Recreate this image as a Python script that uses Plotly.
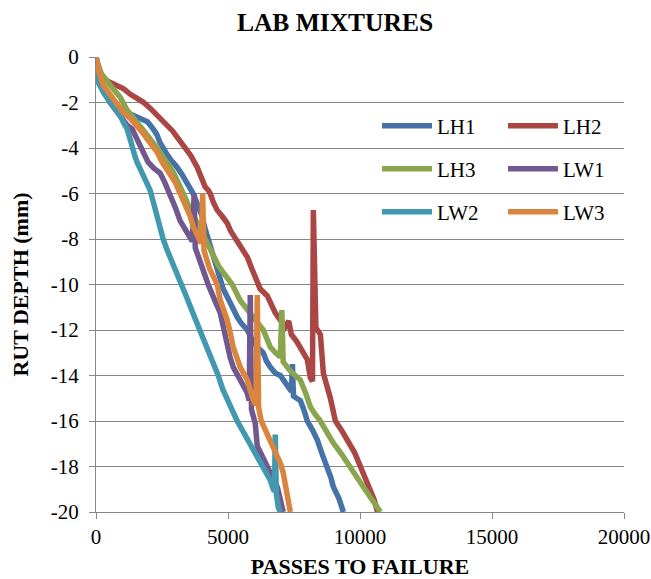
import plotly.graph_objects as go

# ---------------- data (passes, rut depth in mm) ----------------
series_names = ["LH1", "LH2", "LH3", "LW1", "LW2", "LW3"]
series_colors = ["#4572A7", "#AA4643", "#89A54E", "#71588F", "#4198AF", "#DB843D"]

lh1_passes = [0, 40, 300, 645, 1000, 1290, 1550, 1783, 1950, 2163, 2300, 2420, 2542, 2700, 2808,
              2950, 3073, 3250, 3453, 3560, 3680, 3850, 4022, 4120, 4249, 4400, 4550, 4705, 4820,
              5084, 5200, 5350, 5500, 5729, 5900, 6108, 6336, 6450, 6602, 6800, 6981, 7150, 7300,
              7400, 7440, 7480, 7600, 7740, 7870, 8005, 8200, 8385, 8550, 8764, 8900, 8992, 9200, 9371]
lh1_depth = [0, -0.9, -1.5, -2.0, -2.35, -2.5, -2.6, -2.73, -2.85, -3.16, -3.4, -3.75, -4.04, -4.3, -4.48,
             -4.65, -4.84, -5.15, -5.5, -5.75, -6.0, -6.5, -7.0, -7.5, -8.0, -8.6, -9.3, -9.9, -10.2,
             -10.8, -11.1, -11.43, -11.7, -12.0, -12.4, -12.75, -13.0, -13.35, -13.63, -13.9, -14.0, -14.3, -14.6,
             -14.7, -13.5, -14.9, -15.0, -15.1, -15.5, -16.0, -16.4, -16.84, -17.4, -18.0, -18.5, -18.9, -19.4, -20.0]

lh2_passes = [0, 76, 266, 500, 797, 1050, 1290, 1550, 1783, 2050, 2314, 2500, 2694, 2900, 3073, 3250,
              3400, 3600, 3832, 3950, 4135, 4250, 4325, 4450, 4591, 4780, 4970, 5100, 5274, 5500, 5729,
              5900, 6108, 6222, 6488, 6650, 6791, 7000, 7171, 7300, 7400, 7600, 7740, 8005, 8119, 8200,
              8233, 8330, 8500, 8612, 8878, 9067, 9300, 9523, 9800, 10016, 10200, 10396, 10550, 10661]
lh2_depth = [0, -0.35, -0.97, -1.1, -1.23, -1.4, -1.63, -1.8, -1.98, -2.25, -2.55, -2.75, -2.99, -3.25, -3.52, -3.8,
             -4.0, -4.35, -4.84, -5.2, -5.71, -5.85, -6.0, -6.4, -6.73, -7.0, -7.3, -7.65, -7.96, -8.35, -8.79,
             -9.3, -10.0, -10.2, -10.5, -10.9, -11.25, -11.6, -11.87, -11.6, -12.2, -12.5, -12.75, -13.3, -14.1, -14.25,
             -6.73, -11.9, -12.2, -13.9, -15.0, -16.0, -16.4, -16.84, -17.4, -18.0, -18.5, -19.0, -19.5, -20.0]

lh3_passes = [0, 152, 531, 911, 1176, 1450, 1650, 1950, 2314, 2600, 2900, 3187, 3400, 3650, 3900, 4150,
              4400, 4650, 4900, 5160, 5463, 5700, 5957, 6150, 6336, 6480, 6602, 6800, 6981, 7040, 7090,
              7360, 7550, 7740, 7950, 8119, 8300, 8499, 8750, 8992, 9300, 9637, 9900, 10130, 10450, 10775]
lh3_depth = [0, -0.66, -1.23, -1.76, -2.33, -2.7, -3.0, -3.45, -4.0, -4.45, -5.0, -5.7, -6.3, -6.9, -7.45, -8.0,
             -8.6, -9.2, -9.6, -10.0, -10.7, -11.05, -11.43, -11.7, -12.0, -12.4, -12.75, -13.0, -13.19, -11.12, -13.4,
             -13.8, -14.0, -14.2, -14.8, -15.38, -15.7, -16.0, -16.5, -16.97, -17.45, -18.0, -18.45, -18.9, -19.45, -20.0]

lw1_passes = [0, 40, 531, 900, 1176, 1366, 1500, 1669, 1850, 1973, 2200, 2428, 2600, 2808, 3000, 3187,
              3400, 3566, 3650, 3718, 3760, 3832, 4000, 4249, 4500, 4705, 4850, 4970, 5080, 5198, 5463,
              5600, 5729, 5800, 5843, 5890, 6032, 6108, 6300, 6488, 6700, 6867, 7000, 7095]
lw1_depth = [0, -1.0, -2.0, -2.6, -3.0, -3.16, -3.5, -3.87, -4.3, -4.62, -4.9, -5.1, -5.5, -6.0, -6.6, -7.2,
             -7.6, -8.0, -8.1, -6.0, -8.4, -8.62, -9.2, -10.0, -10.7, -11.25, -12.0, -12.75, -13.2, -13.63, -14.2,
             -14.5, -14.77, -15.1, -10.46, -15.5, -16.1, -17.1, -17.6, -18.0, -18.5, -18.9, -19.5, -20.0]

lw2_passes = [0, 38, 300, 531, 750, 911, 1050, 1176, 1290, 1366, 1460, 1556, 1800, 2049, 2200, 2314,
              2450, 2542, 2700, 2808, 3000, 3263, 3450, 3650, 3946, 4150, 4400, 4629, 4800, 4970, 5150,
              5350, 5600, 5843, 6050, 6298, 6450, 6602, 6715, 6760, 6791, 6830, 6905, 6981]
lw2_depth = [0, -1.0, -1.6, -2.0, -2.3, -2.55, -2.9, -3.16, -3.6, -4.0, -4.3, -4.62, -5.2, -5.85, -6.5, -7.03,
             -7.5, -8.0, -8.5, -8.79, -9.3, -10.0, -10.6, -11.2, -12.0, -12.6, -13.3, -14.0, -14.6, -15.1, -15.5,
             -16.0, -16.5, -17.0, -17.5, -18.0, -18.3, -18.6, -19.0, -19.1, -16.6, -19.2, -19.8, -20.0]

lw3_passes = [0, 100, 266, 500, 797, 1024, 1300, 1556, 1750, 1935, 2314, 2504, 2808, 3000, 3187, 3400,
              3566, 3700, 3870, 3990, 4040, 4090, 4300, 4591, 4705, 4970, 5100, 5198, 5463, 5729, 5957,
              6060, 6108, 6160, 6260, 6488, 6715, 6830, 7000, 7095, 7247, 7360]
lw3_depth = [0, -0.6, -1.23, -1.6, -2.0, -2.42, -2.7, -3.0, -3.3, -3.6, -4.18, -4.62, -5.1, -5.5, -6.0, -6.5,
             -7.0, -7.5, -8.0, -8.2, -6.0, -8.5, -9.3, -10.0, -10.68, -11.56, -12.2, -12.75, -13.63, -14.2, -15.08,
             -15.3, -10.46, -15.4, -16.0, -16.6, -17.2, -17.4, -17.9, -18.3, -19.2, -20.0]

x_tick_vals = [0, 5000, 10000, 15000, 20000]
x_tick_text = ["0", "5000", "10000", "15000", "20000"]
y_tick_vals = [0, -2, -4, -6, -8, -10, -12, -14, -16, -18, -20]
y_tick_text = ["0", "-2", "-4", "-6", "-8", "-10", "-12", "-14", "-16", "-18", "-20"]

title_text = "LAB MIXTURES"
x_title = "PASSES TO FAILURE"
y_title = "RUT DEPTH (mm)"

# ---------------- figure ----------------
all_x = [lh1_passes, lh2_passes, lh3_passes, lw1_passes, lw2_passes, lw3_passes]
all_y = [lh1_depth, lh2_depth, lh3_depth, lw1_depth, lw2_depth, lw3_depth]
legend_ids = ["legend", "legend2", "legend3", "legend4", "legend5", "legend6"]

FONT = "Liberation Serif, Times New Roman, serif"
GRID = "#878787"

fig = go.Figure()
for name, col, xs, ys, lg in zip(series_names, series_colors, all_x, all_y, legend_ids):
    fig.add_trace(go.Scatter(x=xs, y=ys, mode="lines", name=name, legend=lg,
                             line=dict(color=col, width=5.5)))

# plot area (px): left 96, right 624, top 57, bottom 512
L, R, T, B = 96, 624, 57, 512
W, H = 651, 579
pw, ph = R - L, B - T

leg_rows = [126, 169, 212]
leg_cols = [377, 503]
legend_layout = {}
for i, lg in enumerate(legend_ids):
    row, colidx = divmod(i, 2)
    legend_layout[lg] = dict(
        x=(leg_cols[colidx] - L) / pw, y=1 - (leg_rows[row] - T) / ph,
        xanchor="left", yanchor="middle", bgcolor="rgba(0,0,0,0)", itemwidth=50,
        font=dict(family=FONT, size=21, color="black"), borderwidth=0)

fig.update_layout(
    width=W, height=H, autosize=False,
    margin=dict(l=L, r=W - R, t=T, b=H - B, pad=0),
    paper_bgcolor="white", plot_bgcolor="white",
    font=dict(family=FONT, color="black"),
    title=dict(text=title_text, x=335 / W, xref="container", xanchor="center",
               y=1 - 22 / H, yref="container", yanchor="middle",
               font=dict(family=FONT, size=25.5, color="black", weight="bold")),
    showlegend=True,
    **legend_layout,
)
fig.update_xaxes(range=[0, 20000], tickvals=x_tick_vals, ticktext=x_tick_text,
                 showgrid=False, zeroline=False, showline=True, linecolor=GRID, linewidth=1.3,
                 ticks="outside", ticklen=6, tickcolor=GRID, tickwidth=1.3,
                 tickfont=dict(family=FONT, size=21, color="black"),
                 title=dict(text=x_title, standoff=10,
                            font=dict(family=FONT, size=22, color="black", weight="bold")),
                 automargin=False)
fig.update_yaxes(range=[-20, 0], tickvals=y_tick_vals, ticktext=y_tick_text,
                 showgrid=True, gridcolor=GRID, gridwidth=1.3, zeroline=False,
                 showline=True, linecolor=GRID, linewidth=1.3,
                 ticks="outside", ticklen=6, tickcolor=GRID, tickwidth=1.3, ticklabelstandoff=6,
                 tickfont=dict(family=FONT, size=21, color="black"),
                 title=dict(text=y_title, standoff=15,
                            font=dict(family=FONT, size=22, color="black", weight="bold")),
                 automargin=False)

fig.write_html("out.html")
